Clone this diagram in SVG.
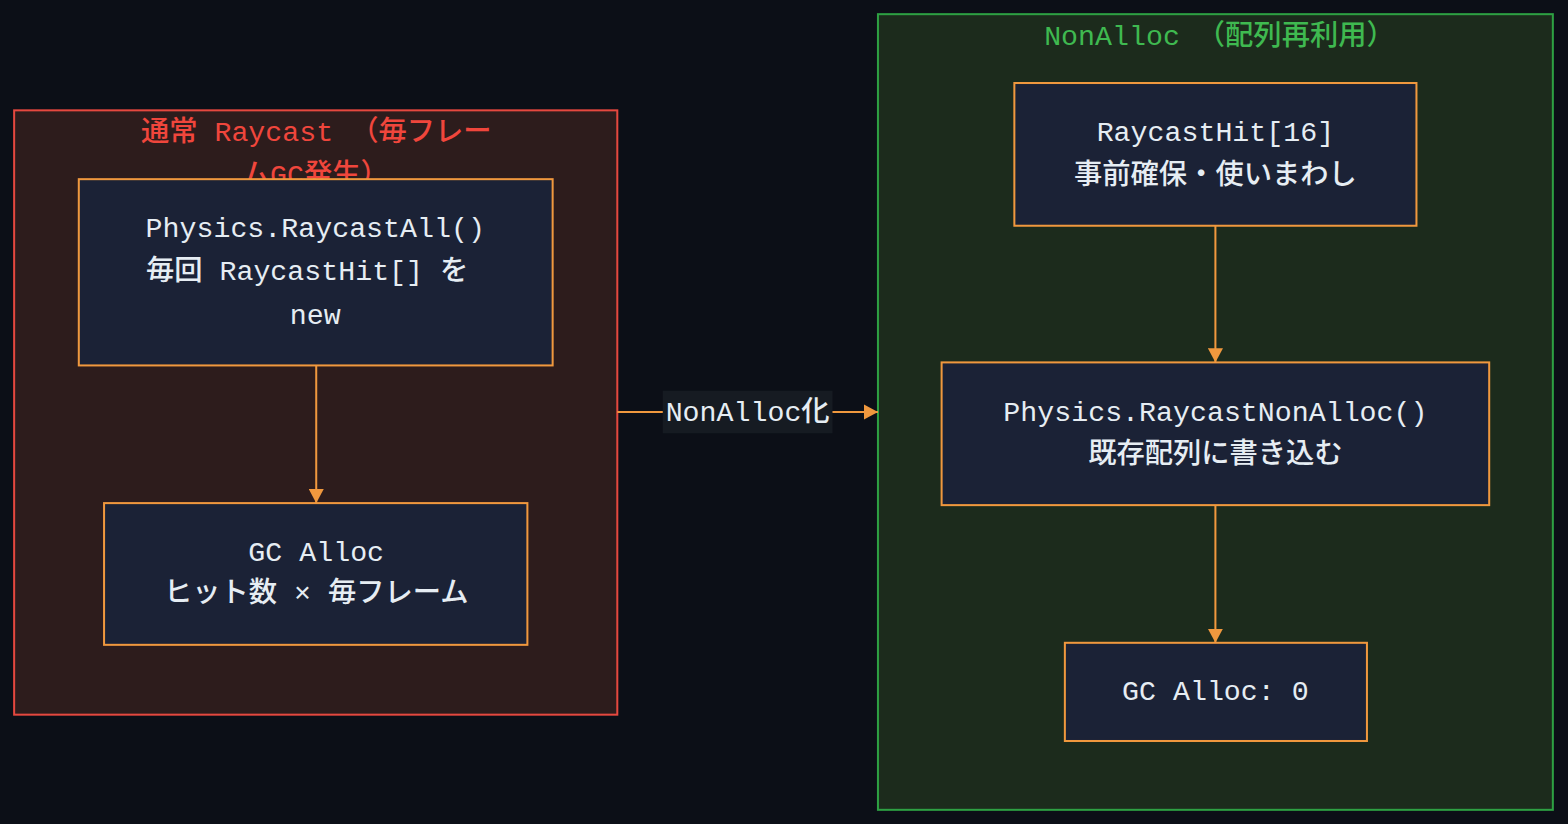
<svg xmlns="http://www.w3.org/2000/svg" width="1568" height="824" viewBox="0 0 1568 824">
<defs>
<style>
.t{font-family:"Liberation Mono","Noto Sans CJK JP",monospace;font-size:28px;font-weight:500;text-anchor:middle}
.n{fill:#1b2236;stroke:#f0983e;stroke-width:2}
.nt{fill:#e6edf3}
.e{stroke:#f0983e;stroke-width:2;fill:none}
</style>
<marker id="ah" viewBox="0 0 14 15" refX="14" refY="7.5" markerWidth="14" markerHeight="15" markerUnits="userSpaceOnUse" orient="auto">
<path d="M0,0 L14,7.5 L0,15 z" fill="#f0983e"/>
</marker>
</defs>
<rect width="1568" height="824" fill="#0c0f17"/>
<g transform="scale(1.01031 1.01229)">
<g id="cluster-normal">
<rect x="14" y="109" width="597" height="597" fill="#2d1c1c" stroke="#e5483f" stroke-width="2"/>
<text class="t" x="313" y="139" fill="#f0463c">通常 Raycast （毎フレー</text>
<text class="t" x="312" y="182" fill="#f0463c">ムGC発生）</text>
</g>
<g id="cluster-nonalloc">
<rect x="869" y="14" width="668" height="786" fill="#1c2b1c" stroke="#2ea043" stroke-width="2"/>
<text class="t" x="1207" y="44" fill="#3fb950">NonAlloc （配列再利用）</text>
</g>
<g id="connectors">
<line class="e" x1="313" y1="361" x2="313" y2="497" marker-end="url(#ah)"/>
<line class="e" x1="1203" y1="223" x2="1203" y2="358" marker-end="url(#ah)"/>
<line class="e" x1="1203" y1="499" x2="1203" y2="635" marker-end="url(#ah)"/>
<line class="e" x1="611" y1="407" x2="869" y2="407" marker-end="url(#ah)"/>
<rect x="656" y="386" width="168" height="42" fill="#161b22"/>
<text class="t nt" x="740" y="416">NonAlloc化</text>
</g>
<g id="node-raycastall">
<rect class="n" x="78" y="177" width="469" height="184"/>
<text class="t nt" x="312" y="234">Physics.RaycastAll()</text>
<text class="t nt" x="304" y="277">毎回 RaycastHit[] を</text>
<text class="t nt" x="312" y="320">new</text>
</g>
<g id="node-gcalloc">
<rect class="n" x="103" y="497" width="419" height="140"/>
<text class="t nt" x="313" y="554">GC Alloc</text>
<text class="t nt" x="313" y="595">ヒット数 × 毎フレーム</text>
</g>
<g id="node-prealloc">
<rect class="n" x="1004" y="82" width="398" height="141"/>
<text class="t nt" x="1203" y="139">RaycastHit[16]</text>
<text class="t nt" x="1203" y="182">事前確保・使いまわし</text>
</g>
<g id="node-nonalloc">
<rect class="n" x="932" y="358" width="542" height="141"/>
<text class="t nt" x="1203" y="416">Physics.RaycastNonAlloc()</text>
<text class="t nt" x="1203" y="457">既存配列に書き込む</text>
</g>
<g id="node-gczero">
<rect class="n" x="1054" y="635" width="299" height="97"/>
<text class="t nt" x="1203" y="692">GC Alloc: 0</text>
</g>
</g>
</svg>
